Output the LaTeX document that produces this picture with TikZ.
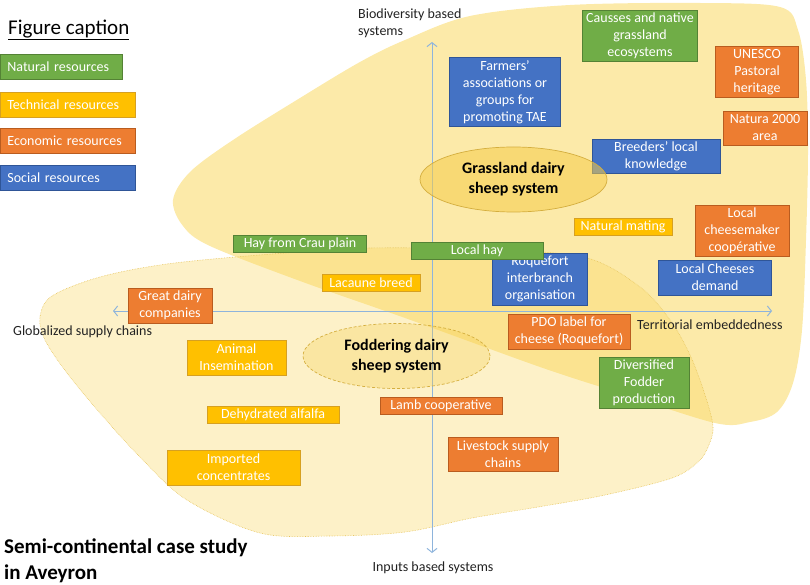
\documentclass[tikz,border=0pt]{standalone}
\usepackage{fontspec}
\setmainfont{Carlito}
\usetikzlibrary{shapes.geometric,arrows.meta}
\definecolor{natfill}{HTML}{70AD47}
\definecolor{natline}{HTML}{548235}
\definecolor{tecfill}{HTML}{FFC000}
\definecolor{tecline}{HTML}{D6A021}
\definecolor{ecofill}{HTML}{ED7D31}
\definecolor{ecoline}{HTML}{B95C1F}
\definecolor{socfill}{HTML}{4472C4}
\definecolor{socline}{HTML}{2F5597}
\definecolor{axiscol}{HTML}{8EB4DC}
\definecolor{blobfill}{HTML}{F9D862}
\definecolor{blobline}{HTML}{E6C35A}
\definecolor{ellfill}{HTML}{F5CC4A}
\definecolor{ellline}{HTML}{D4AE3E}
\definecolor{labcol}{HTML}{222222}
\newcommand{\boxfont}{\fontsize{14}{17}\selectfont}
\newcommand{\axfont}{\fontsize{14}{16.5}\selectfont}
\tikzset{
  res/.style={draw, line width=0.8pt, inner sep=0pt, align=center, text=white, font=\boxfont},
  nat/.style={res, fill=natfill, draw=natline},
  tec/.style={res, fill=tecfill, draw=tecline},
  eco/.style={res, fill=ecofill, draw=ecoline},
  soc/.style={res, fill=socfill, draw=socline},
  legbox/.style={anchor=west, minimum height=25pt, inner xsep=7pt, align=left, text width=#1},
  syst/.style={ellipse, inner sep=0pt, align=center, font=\fontsize{16}{20}\selectfont\bfseries, text=black,
     minimum width=187pt, minimum height=65pt, line width=0.7pt},
  axlab/.style={inner sep=0pt, font=\axfont, text=labcol},
  axis/.style={draw=axiscol, line width=1pt, {Straight Barb[length=4pt,width=10pt]}-{Straight Barb[length=4pt,width=10pt]}}
}
\begin{document}
\begin{tikzpicture}[x=1pt,y=-1pt]
\useasboundingbox (0,0) rectangle (810,585);
% grassland blob
\fill[blobfill, opacity=0.55] plot[smooth cycle, tension=0.55] coordinates {
 (173,200) (190,172) (233,140) (300,98) (360,62) (405,40) (470,16) (570,5) (700,3) (780,7)
 (798,30) (806,80) (808,150) (806,240) (802,330) (793,383) (777,412) (750,422) (715,423)
 (620,393) (540,367) (405,318) (300,281) (210,246) (183,226)};
% fodder blob
\filldraw[fill=blobfill, fill opacity=0.35, draw=blobline, densely dotted, line width=0.6pt] plot[smooth cycle, tension=0.55] coordinates {
 (40,317) (52,296) (100,277) (167,264) (260,255) (370,248) (500,250) (587,258) (640,287)
 (670,320) (690,355) (705,395) (713,427) (708,447) (698,462) (672,478) (605,495) (538,507)
 (472,518) (405,532) (330,536) (260,533) (187,500) (140,457) (100,413) (67,373) (45,340)};
% axes
\coordinate (west) at (113,311);
\coordinate (east) at (772,311);
\coordinate (north) at (432,42);
\coordinate (south) at (432,553);
\draw[axis] (west) -- (east);
\draw[axis] (north) -- (south);
\node[axlab, anchor=north west, align=left] (bio) at (358,9) {Biodiversity based\\systems};
\node[axlab] (inp) at (433,568) {Inputs based systems};
\node[axlab, anchor=west] (glob) at (13,332) {Globalized supply chains};
\node[axlab, anchor=west] (terr) at (637,325) {Territorial embeddedness};
% caption
\node[anchor=west, inner sep=0pt, font=\fontsize{21}{25}\selectfont] (cap) at (8,30) {\underline{Figure caption}};
\node[nat, legbox=108pt] (lnat) at (0,67) {Natural resources};
\node[tec, legbox=121pt] (ltec) at (0,104.5) {Technical resources};
\node[eco, legbox=121pt] (leco) at (0,140.5) {Economic resources};
\node[soc, legbox=121pt] (lsoc) at (0,177.5) {Social resources};
\node[anchor=north west, inner sep=0pt, align=left, font=\fontsize{21}{26}\selectfont\bfseries] (title) at (4,539) {Semi-continental case study\\in Aveyron};
% resource boxes
\node[nat, minimum width=115pt, minimum height=51pt] (causses) at (640,36) {Causses and native\\grassland\\ecosystems};
\node[eco, minimum width=83pt, minimum height=51pt] (unesco) at (757,72) {UNESCO\\Pastoral\\heritage};
\node[soc, minimum width=111pt, minimum height=69pt] (farm) at (505,92) {Farmers’\\associations or\\groups for\\promoting TAE};
\node[eco, minimum width=84pt, minimum height=34pt] (natura) at (765,128) {Natura 2000\\area};
\node[soc, minimum width=128pt, minimum height=34pt] (breed) at (656,156) {Breeders’ local\\knowledge};
\node[tec, minimum width=98pt, minimum height=17pt] (mating) at (623,227) {Natural mating};
\node[eco, minimum width=94pt, minimum height=51pt] (cheesemaker) at (742,231) {Local\\cheesemaker\\coopérative};
\node[soc, minimum width=95pt, minimum height=52pt] (roq) at (540,279) {Roquefort\\interbranch\\organisation};
\node[nat, minimum width=132pt, minimum height=17pt] (lhay) at (477,250.5) {Local hay};
\node[soc, minimum width=113pt, minimum height=35pt] (demand) at (715,277.5) {Local Cheeses\\demand};
\node[nat, minimum width=133pt, minimum height=17pt] (crau) at (300,243.5) {Hay from Crau plain};
\node[tec, minimum width=98pt, minimum height=17pt] (lacaune) at (371,282.5) {Lacaune breed};
\node[eco, minimum width=84pt, minimum height=35pt] (great) at (170,305.5) {Great dairy\\companies};
\node[eco, minimum width=122pt, minimum height=35pt] (pdo) at (569,331.5) {PDO label for\\cheese (Roquefort)};
\node[nat, minimum width=90pt, minimum height=51pt] (divers) at (644,382.5) {Diversified\\Fodder\\production};
\node[tec, minimum width=99pt, minimum height=35pt] (insem) at (236.5,357.5) {Animal\\Insemination};
\node[tec, minimum width=132pt, minimum height=17pt] (alfalfa) at (273,414.5) {Dehydrated alfalfa};
\node[eco, minimum width=122pt, minimum height=17pt] (lamb) at (441,405.5) {Lamb cooperative};
\node[eco, minimum width=110pt, minimum height=34pt] (livestock) at (503,454) {Livestock supply\\chains};
\node[tec, minimum width=133pt, minimum height=35pt] (imported) at (233.5,467.5) {Imported\\concentrates};
% system ellipses
\node[syst, fill=ellfill, fill opacity=0.55, text opacity=1, draw=ellline] (grass) at (513.5,179.5) {Grassland dairy\\sheep system};
\node[syst, fill=ellfill, fill opacity=0.3, text opacity=1, draw=ellline, densely dashed] (fodd) at (396.5,356) {Foddering dairy\\sheep system};
\end{tikzpicture}
\end{document}
